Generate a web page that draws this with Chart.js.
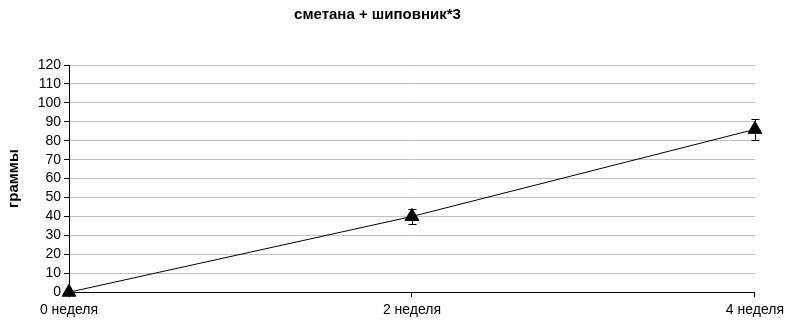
<!DOCTYPE html>
<html>
<head>
<meta charset="utf-8">
<script src="https://cdn.jsdelivr.net/npm/chart.js@4/dist/chart.umd.min.js"></script>
<style>
  html, body { margin: 0; padding: 0; background: #fff; }
  #wrap { width: 789px; height: 324px; }
</style>
</head>
<body>
<div id="wrap"><canvas id="chart"></canvas></div>
<script>
const categories = ['0 неделя', '2 неделя', '4 неделя'];
const values = [0, 40, 86];
const errors = [0, 4, 5.5];

// draws the vertical error bars with small caps
const errorBars = {
  id: 'errorBars',
  afterDatasetsDraw(chart) {
    const ctx = chart.ctx;
    const y = chart.scales.y;
    const meta = chart.getDatasetMeta(0);
    ctx.save();
    ctx.strokeStyle = '#000';
    ctx.lineWidth = 1;
    meta.data.forEach((pt, i) => {
      const e = errors[i];
      if (!e) return;
      const top = Math.round(y.getPixelForValue(values[i] + e)) + 0.5;
      const bot = Math.round(y.getPixelForValue(values[i] - e)) + 0.5;
      const x = Math.round(pt.x) + 0.5;
      ctx.beginPath();
      ctx.moveTo(x, top); ctx.lineTo(x, bot);
      ctx.moveTo(x - 4, top); ctx.lineTo(x + 4, top);
      ctx.moveTo(x - 4, bot); ctx.lineTo(x + 4, bot);
      ctx.stroke();
    });
    ctx.restore();
  }
};

const font = 'Liberation Sans, Arial';

const ctx = document.getElementById('chart').getContext('2d');
new Chart(ctx, {
  type: 'line',
  data: {
    labels: categories,
    datasets: [{
      data: values,
      borderColor: '#000',
      borderWidth: 1,
      backgroundColor: '#000',
      pointStyle: 'triangle',
      pointRadius: 8,
      pointBackgroundColor: '#000',
      pointBorderColor: '#000',
      clip: false,
      tension: 0
    }]
  },
  options: {
    responsive: true,
    maintainAspectRatio: false,
    animation: false,
    layout: { padding: { left: 0, right: 34, top: 6, bottom: 0 } },
    plugins: {
      legend: { display: false },
      tooltip: { enabled: false },
      title: {
        display: true,
        text: 'сметана + шиповник*3',
        color: '#000',
        font: { family: font, size: 15, weight: 'bold' },
        padding: { top: 0, bottom: 41 }
      }
    },
    scales: {
      x: {
        offset: false,
        grid: { drawOnChartArea: false, tickLength: 5, tickColor: '#000' },
        border: { color: '#000' },
        ticks: { color: '#000', font: { family: font, size: 14 }, maxRotation: 0, padding: 5 }
      },
      y: {
        min: 0, max: 120,
        afterFit(scale) { scale.width = 69; },
        ticks: { stepSize: 10, autoSkip: false, color: '#000', font: { family: font, size: 14 }, padding: 3 },
        grid: { color: '#c0c0c0', tickLength: 5, tickColor: '#000' },
        border: { color: '#000' },
        title: {
          display: true,
          text: 'граммы',
          color: '#000',
          font: { family: font, size: 15, weight: 'bold' },
          padding: { top: 5, bottom: 0 }
        }
      }
    }
  },
  plugins: [errorBars]
});
</script>
</body>
</html>
